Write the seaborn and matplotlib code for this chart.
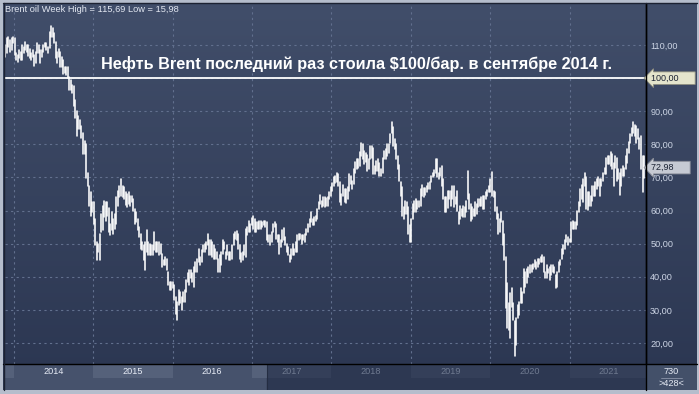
#!/usr/bin/env python3
# -*- coding: utf-8 -*-

import numpy as np
import pandas as pd
import matplotlib
matplotlib.use("Agg")
import matplotlib.pyplot as plt
from matplotlib.lines import Line2D
from matplotlib.colors import LinearSegmentedColormap
import seaborn as sns

# ---- Weekly Brent high / low (USD/bbl), weeks ending Friday ----
hi_2013 = [110.0, 112.0, 112.5, 111.5, 112.0, 112.5]
lo_2013 = [106.5, 107.5, 109.5, 108.0, 108.5, 110.5]

hi_2014 = [112.0, 107.5, 107.0, 108.5, 108.0, 110.0, 109.5, 111.0, 110.0,
           110.0, 108.8, 107.5, 108.5, 107.0, 108.0, 110.5, 110.0,
           108.5, 108.5, 110.0, 110.5, 110.5, 109.5, 114.0, 115.7, 115.0,
           113.5, 111.0, 108.0, 108.8, 107.8, 106.5, 105.5, 103.3, 103.5,
           103.5, 100.5, 99.5, 98.0, 97.5, 93.5, 90.0, 88.5, 87.5,
           85.5, 83.5, 81.0, 80.0, 71.5, 67.5, 65.5, 62.5]
lo_2014 = [107.0, 105.5, 104.8, 106.0, 105.5, 105.5, 107.5, 108.5, 108.0,
           106.8, 106.0, 105.5, 106.5, 103.7, 104.5, 107.5, 107.5,
           104.5, 106.5, 108.0, 109.5, 108.5, 107.5, 109.0, 112.5, 112.5,
           110.5, 106.0, 104.5, 106.5, 103.5, 103.5, 101.2, 101.5, 101.0,
           100.0, 96.3, 96.5, 95.5, 91.5, 88.0, 82.5, 84.5, 84.5,
           82.0, 77.0, 77.0, 69.8, 67.5, 61.5, 58.5, 59.5]

hi_2015 = [62.5, 57.5, 50.5, 50.0, 53.0, 59.0, 61.5, 63.0, 62.5,
           62.5, 60.7, 56.0, 59.7, 57.5, 59.0, 64.0, 66.0,
           67.5, 69.6, 67.5, 67.0, 65.5, 65.0, 65.7, 64.5, 64.5,
           63.5, 60.5, 59.5, 57.5, 55.0, 53.0, 50.5, 49.5, 50.5,
           54.0, 50.5, 50.0, 49.5, 49.5, 53.5, 50.5, 50.5, 50.5,
           50.0, 47.0, 45.0, 46.0, 45.5, 41.5, 38.5, 38.5]
lo_2015 = [55.8, 49.7, 45.2, 47.5, 45.2, 53.5, 54.0, 58.0, 57.0,
           58.5, 53.5, 52.5, 54.0, 53.0, 54.5, 56.0, 61.5,
           64.0, 64.5, 64.0, 63.5, 61.6, 61.0, 62.0, 61.5, 62.5,
           60.0, 56.0, 56.5, 54.0, 52.0, 48.5, 48.0, 45.0, 42.2,
           47.5, 46.5, 46.5, 46.5, 46.5, 48.0, 47.5, 47.5, 46.5,
           47.0, 43.0, 43.5, 43.5, 42.0, 37.5, 36.0, 36.1]

hi_2016 = [38.5, 37.5, 34.0, 32.5, 36.0, 35.5, 34.0, 35.5, 36.0,
           39.0, 41.0, 42.0, 42.0, 41.0, 43.0, 44.5, 45.5, 48.5,
           46.0, 48.0, 49.5, 50.0, 50.5, 52.9, 51.0, 51.0,
           50.5, 49.5, 48.5, 47.5, 45.5, 46.5, 47.5, 51.2, 50.5,
           47.5, 49.5, 47.5, 47.5, 49.5, 52.9, 53.5, 53.7, 53.0,
           49.5, 47.2, 47.5, 49.5, 54.5, 55.0, 57.0, 56.0, 57.9]
lo_2016 = [36.5, 33.0, 28.8, 27.1, 31.5, 32.0, 30.0, 32.5, 32.5,
           35.5, 38.5, 37.5, 39.5, 38.5, 37.0, 41.5, 41.5, 44.5,
           43.5, 44.5, 47.5, 47.5, 48.5, 49.5, 46.5, 46.5,
           46.0, 45.5, 45.5, 45.5, 41.5, 41.5, 43.5, 47.0, 48.5,
           45.5, 46.5, 45.0, 45.0, 45.5, 49.5, 51.5, 51.0, 48.5,
           45.5, 44.5, 45.0, 46.5, 46.0, 52.5, 53.5, 53.5, 55.5]

hi_2017 = [58.4, 57.5, 56.5, 56.5, 57.0, 57.0, 56.5, 57.0,
           57.0, 56.5, 52.5, 52.5, 53.5, 56.0, 56.6, 56.0, 52.5,
           52.5, 51.0, 54.0, 54.8, 52.0, 50.0, 49.0, 46.5, 48.5,
           49.8, 48.5, 50.5, 52.5, 53.0, 53.0, 52.5, 52.5,
           53.0, 54.5, 56.0, 57.5, 59.5, 57.5, 58.2, 58.5, 60.5,
           62.5, 64.6, 63.0, 64.0, 64.0, 63.7, 64.0, 65.5, 67.0]
lo_2017 = [54.5, 53.5, 53.5, 54.5, 54.5, 54.5, 55.0, 55.5,
           55.0, 51.0, 50.5, 49.7, 50.5, 53.5, 55.0, 51.5, 50.5,
           47.0, 49.0, 50.5, 51.0, 49.5, 47.5, 46.5, 44.4, 45.5,
           46.5, 46.5, 47.5, 47.5, 51.0, 51.5, 50.0, 51.0,
           50.5, 52.5, 53.5, 55.0, 56.5, 55.5, 55.5, 57.0, 57.5,
           60.5, 62.0, 61.0, 61.5, 61.0, 61.5, 61.5, 63.5, 64.5]

hi_2018 = [68.3, 70.0, 70.4, 71.3, 70.9, 68.5, 65.0, 67.7,
           66.5, 66.5, 67.0, 71.0, 70.5, 69.0, 72.7, 74.8, 75.5,
           75.5, 77.8, 80.5, 80.2, 78.0, 77.5, 76.8, 75.5, 79.5,
           79.5, 79.0, 73.5, 75.0, 75.5, 74.5, 72.5, 76.0, 78.0,
           78.5, 80.1, 80.0, 83.0, 86.7, 85.2, 81.5, 80.0,
           76.5, 73.8, 68.5, 67.0, 61.0, 63.0, 62.5, 61.0, 55.5]
lo_2018 = [66.0, 67.5, 68.3, 68.5, 67.5, 62.5, 61.8, 64.5,
           62.5, 62.2, 63.5, 66.0, 68.0, 66.5, 68.0, 71.5, 72.5,
           72.8, 73.5, 76.5, 75.5, 74.0, 74.7, 71.9, 72.5, 75.5,
           76.0, 71.0, 71.0, 72.0, 72.0, 70.3, 70.3, 71.5, 75.5,
           75.5, 76.5, 77.5, 80.5, 83.5, 79.5, 78.5, 75.5,
           72.5, 69.0, 64.5, 58.4, 57.5, 59.0, 59.0, 53.0, 50.5]

hi_2019 = [57.5, 62.0, 63.0, 63.5, 63.0, 63.0, 66.5, 67.8,
           66.8, 66.8, 67.5, 68.2, 68.5, 70.5, 71.5, 72.3, 75.6,
           75.5, 71.5, 73.0, 73.5, 69.5, 64.0, 64.0, 65.9, 66.0,
           66.0, 67.5, 67.5, 64.0, 66.0, 59.5, 61.5, 60.5, 61.5,
           61.0, 63.0, 71.9, 65.0, 62.0, 61.0, 60.5, 62.5,
           62.0, 63.5, 63.5, 64.0, 64.5, 64.5, 65.5, 66.3, 67.5]
lo_2019 = [50.5, 57.5, 59.5, 59.5, 60.5, 61.0, 61.5, 64.5,
           64.0, 64.8, 65.5, 66.5, 66.5, 68.5, 70.0, 70.5, 71.5,
           70.0, 69.5, 70.5, 67.5, 63.5, 59.5, 59.5, 60.8, 63.5,
           61.5, 63.5, 61.0, 62.0, 60.0, 55.9, 57.5, 58.5, 58.0,
           58.0, 59.5, 63.5, 60.5, 57.0, 57.5, 58.5, 58.5,
           59.0, 61.0, 61.5, 61.5, 60.5, 60.5, 63.5, 64.5, 65.5]

hi_2020 = [69.5, 71.8, 66.0, 65.5, 61.0, 59.0, 57.5, 59.5, 57.0,
           53.0, 46.0, 38.0, 32.0, 35.0, 36.5, 32.0, 26.5,
           27.5, 31.5, 32.5, 36.5, 35.5, 42.3, 41.5, 42.5, 43.0,
           43.5, 43.7, 43.8, 45.0, 44.5, 45.5, 45.5, 46.0, 46.5,
           46.0, 41.5, 43.5, 42.5, 43.0, 43.5, 43.5, 43.0, 40.5,
           41.5, 44.5, 45.0, 48.5, 49.5, 51.0, 52.5, 52.0]
lo_2020 = [65.5, 64.5, 64.0, 60.0, 57.5, 53.0, 53.5, 56.5, 49.5,
           45.0, 30.5, 24.5, 24.0, 21.6, 31.0, 26.8, 15.98,
           19.5, 27.5, 28.5, 32.0, 32.0, 35.0, 37.0, 38.0, 40.0,
           41.0, 41.5, 42.5, 43.0, 42.5, 43.0, 44.0, 44.5, 44.5,
           41.5, 39.5, 39.5, 41.0, 39.0, 40.5, 41.5, 41.0, 36.5,
           37.0, 41.5, 43.5, 45.5, 47.0, 48.5, 50.5, 49.5]

hi_2021 = [51.5, 56.5, 57.0, 56.5, 56.5, 59.8, 62.5, 66.5, 67.7,
           69.5, 71.4, 70.0, 65.5, 65.5, 64.5, 67.5, 67.5, 68.5,
           69.5, 70.0, 69.5, 69.5, 71.5, 73.0, 76.0, 76.5,
           76.5, 77.8, 77.0, 74.5, 76.5, 76.0, 72.5, 71.5, 72.5,
           73.5, 73.0, 76.5, 78.5, 80.8, 83.0, 85.0, 86.7, 86.0,
           85.5, 84.5, 82.0, 82.5, 76.5, 76.6]
lo_2021 = [50.5, 50.5, 54.5, 54.5, 54.5, 55.5, 59.5, 61.5, 63.5,
           62.5, 67.5, 60.5, 60.3, 61.5, 61.5, 63.0, 64.5, 64.5,
           66.5, 67.5, 64.5, 67.5, 69.0, 71.0, 71.0, 74.0,
           74.0, 73.5, 72.5, 67.5, 73.0, 69.0, 69.5, 64.6, 67.5,
           70.5, 70.5, 72.5, 74.5, 77.5, 80.5, 82.5, 83.5, 82.5,
           80.5, 81.5, 78.5, 72.5, 65.7, 69.7]

first_week = "2013-11-22"
years = ["2014", "2015", "2016", "2017", "2018", "2019", "2020", "2021"]
y_ticks = [20, 30, 40, 50, 60, 70, 80, 90, 100, 110]
level_100 = 100.0
last_close = 72.98
week_high, week_low = 115.69, 15.98
bars_total, bars_shown = 730, 428

title = f"Brent oil Week High = {week_high:.2f} Low = {week_low:.2f}".replace(".", ",")
note = "Нефть Brent последний раз стоила \\$100/бар. в сентябре 2014 г."


W, H = 699, 394


def fx(x):
    return x / W


def fy(y):
    return 1 - y / H


def fmt(v):
    return f"{v:.2f}".replace(".", ",")


def price_tag(ax, value, fc, ec):
    # label box with a left arrow on the right-hand scale
    ax.annotate(fmt(value) + "      ", xy=(1.0, value),
                xycoords=("axes fraction", "data"), xytext=(3.5, 0),
                textcoords="offset points", ha="left", va="center",
                fontsize=6.5, color="#1b2233", zorder=6, annotation_clip=False,
                bbox=dict(boxstyle="larrow,pad=0.2", fc=fc, ec=ec, lw=0.6))


def main():
    highs = (hi_2013 + hi_2014 + hi_2015 + hi_2016 + hi_2017
             + hi_2018 + hi_2019 + hi_2020 + hi_2021)
    lows = (lo_2013 + lo_2014 + lo_2015 + lo_2016 + lo_2017
            + lo_2018 + lo_2019 + lo_2020 + lo_2021)
    n = len(highs)
    dates = pd.date_range(first_week, periods=n, freq="W-FRI")
    df = pd.concat([
        pd.DataFrame({"week": range(n), "date": dates, "price": highs}),
        pd.DataFrame({"week": range(n), "date": dates, "price": lows}),
    ], ignore_index=True)

    sns.set_theme(style="white")
    plt.rcParams["font.family"] = ["Liberation Sans", "DejaVu Sans"]

    fig = plt.figure(figsize=(W / 100, H / 100), dpi=100, facecolor="#b5bdcc")

    # ---- panel background (gradient) ----
    bg = fig.add_axes([fx(3), fy(390), fx(694), 387 / H])
    cmap = LinearSegmentedColormap.from_list("bg", ["#414e6a", "#2b3651"])
    bg.imshow(np.linspace(0, 1, 256).reshape(-1, 1), cmap=cmap,
              aspect="auto", extent=[0, 1, 0, 1])
    bg.set_axis_off()

    # ---- price axes ----
    ax = fig.add_axes([fx(5), fy(364), fx(641), 360 / H])
    ax.set_facecolor("none")
    t0, t1 = pd.Timestamp("2013-11-20"), pd.Timestamp("2021-12-19")
    ax.set_xlim(t0, t1)
    ax.set_ylim(13.66, 122.4)

    year_starts = pd.to_datetime([f"{y}-01-01" for y in years])
    for d in year_starts:
        ax.axvline(d, color="#62708e", lw=0.8, ls=(0, (2, 3)), zorder=0)
    for v in y_ticks:
        ax.axhline(v, color="#62708e", lw=0.8, ls=(0, (2, 3)), zorder=0)

    sns.lineplot(data=df, x="date", y="price", units="week", estimator=None,
                 color="white", lw=1.15, ax=ax, legend=False, zorder=3)
    ax.axhline(level_100, color="white", lw=1.3, zorder=4)

    ax.set_xlabel("")
    ax.set_ylabel("")
    ax.set_xticks([])
    ax.yaxis.tick_right()
    ax.set_yticks(y_ticks)
    # the 100 level is shown by its tag instead of a plain tick label
    ax.set_yticklabels(["" if v == level_100 else fmt(v) for v in y_ticks])
    ax.tick_params(axis="y", length=0, pad=3, labelsize=6.6, labelcolor="#ccd4e4")
    for s in ["left", "top", "bottom"]:
        ax.spines[s].set_visible(False)
    ax.spines["right"].set_color("black")
    ax.spines["right"].set_linewidth(1)

    price_tag(ax, level_100, "#e4e4cc", "#8f8f80")
    price_tag(ax, last_close, "#c6cad3", "#8a8e98")

    # ---- time axis strip ----
    tax = fig.add_axes([fx(5), fy(390), fx(641), 26 / H], sharex=ax)
    tax.set_ylim(0, 1)
    tax.set_axis_off()
    thumb = pd.Timestamp("2017-03-10")
    tax.axvspan(t0, thumb, color="#46526c", zorder=0)
    tax.axvspan(thumb, t1, color="#2d3852", zorder=0)
    odd = [pd.Timestamp("2013-01-01")] + [d for d in year_starts if d.year % 2 == 1]
    for d in odd:
        end = d + pd.DateOffset(years=1)
        if d < thumb:
            tax.axvspan(max(d, t0), min(end, thumb), ymin=0.45, ymax=1,
                        color="#55617a", lw=0, zorder=1)
        if end > thumb:
            tax.axvspan(max(d, thumb), end, ymin=0.45, ymax=1,
                        color="#343f59", lw=0, zorder=1)
    for d, lab in zip(year_starts, years):
        mid = d + pd.Timedelta(days=182)
        c = "#e6ebf5" if mid < thumb else "#6f7a90"
        tax.text(mid, 0.7, lab, ha="center", va="center", fontsize=6.6, color=c)
    tax.axvline(thumb, color="#242d42", lw=0.8)

    # ---- frame lines and corner box ----
    fig.add_artist(Line2D([fx(3), fx(697)], [fy(364), fy(364)], color="black", lw=1))
    fig.add_artist(Line2D([fx(646), fx(646)], [fy(3), fy(390)], color="black", lw=1))
    fig.add_artist(Line2D([fx(3), fx(697)], [fy(3), fy(3)], color="#1c2232", lw=1))
    fig.add_artist(Line2D([fx(3.5), fx(3.5)], [fy(3), fy(390)], color="#1c2232", lw=1))
    box = fig.add_axes([fx(647), fy(390), fx(50), 25.5 / H])
    box.set_facecolor("#435069")
    box.set_xticks([])
    box.set_yticks([])
    for s in box.spines.values():
        s.set_visible(False)
    fig.text(fx(671), fy(372), str(bars_total), ha="center", va="center",
             fontsize=6.6, color="#e6ebf5")
    fig.add_artist(Line2D([fx(661), fx(682)], [fy(378), fy(378)], color="#8a94a8", lw=0.6))
    fig.text(fx(671), fy(383.5), f">{bars_shown}<", ha="center", va="center",
             fontsize=6.6, color="#e6ebf5")

    # ---- texts ----
    fig.text(fx(5), fy(9), title, ha="left", va="center", fontsize=6.7, color="#e3e8f2")
    fig.text(fx(357), fy(64), note, ha="center", va="center", fontsize=11.7,
             fontweight="bold", color="white")

    fig.savefig("out.png", dpi=100, facecolor=fig.get_facecolor())
    plt.close(fig)


if __name__ == "__main__":
    main()
